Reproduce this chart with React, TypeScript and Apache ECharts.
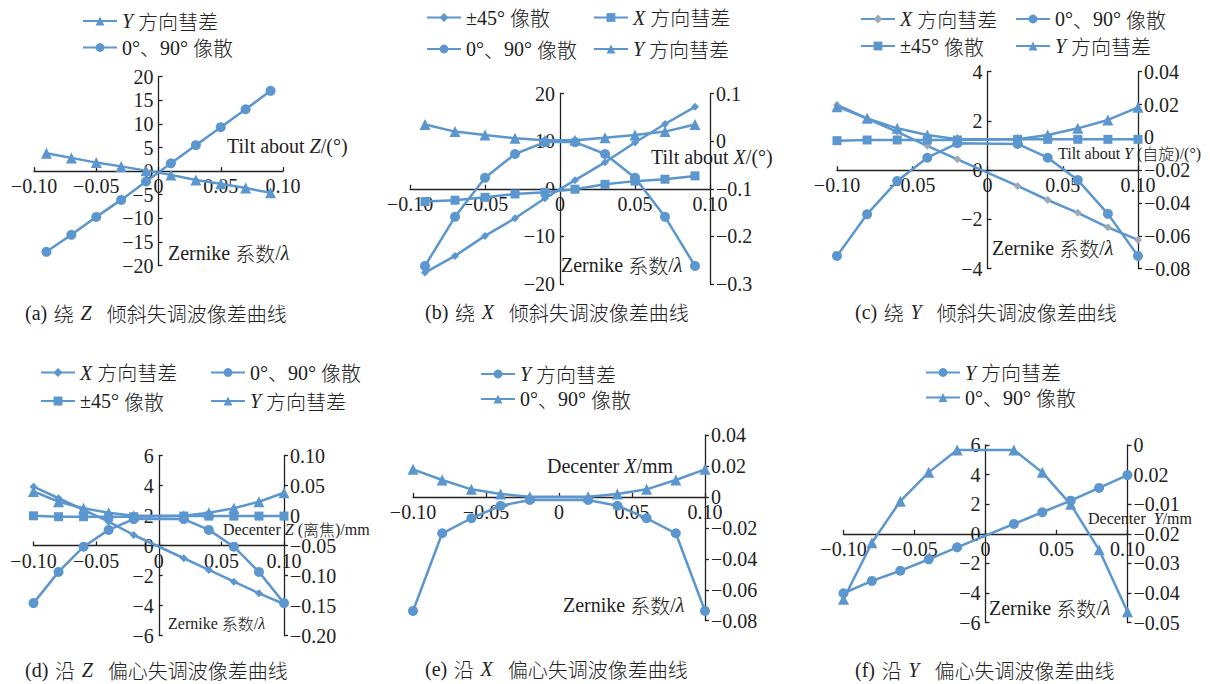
import React, { useEffect, useRef } from 'react';
import * as echarts from 'echarts';

const BLUE = '#5b96cf';
const GREY_MARK = '#9ea9b6';
const INK = '#222';
const SERIF = "'Liberation Serif', 'Times New Roman', serif";
const CJK = "'Noto Sans CJK SC', 'Noto Sans CJK JP', sans-serif";

// ---- x positions (tilt angle / decenter) ----
const xTiltZ = [-0.09, -0.07, -0.05, -0.03, -0.01, 0.01, 0.03, 0.05, 0.07, 0.09];
const xTiltX = [-0.09, -0.07, -0.05, -0.03, -0.01, 0.01, 0.03, 0.05, 0.07, 0.09];
const xStep = [-0.1, -0.08, -0.06, -0.04, -0.02, 0.02, 0.04, 0.06, 0.08, 0.1];

// (a) tilt about Z
const aComaY = [3.8, 2.8, 1.8, 1.0, 0.1, -0.8, -1.9, -2.7, -3.6, -4.6];
const aAstig0 = [-17.1, -13.5, -9.7, -6.1, -2.2, 1.65, 5.5, 9.3, 13.1, 17.0];

// (b) tilt about X
const bAstig45 = [-17.6, -14.1, -9.9, -6.2, -2.0, 1.8, 5.55, 9.7, 13.6, 17.2];
const bComaX = [-2.7, -2.4, -1.8, -1.1, -0.75, -0.1, 0.93, 1.6, 2.0, 2.7];
const bAstig0 = [-0.262, -0.159, -0.077, -0.027, -0.002, -0.002, -0.027, -0.077, -0.159, -0.262];
const bComaY = [0.035, 0.02, 0.013, 0.006, 0.002, 0.002, 0.007, 0.013, 0.02, 0.035];

// (c) tilt about Y
const cComaX = [2.65, 2.1, 1.56, 0.99, 0.44, -0.64, -1.21, -1.73, -2.32, -2.83];
const cAstig0 = [-0.0722, -0.0468, -0.0266, -0.0124, -0.0036, -0.004, -0.0124, -0.026, -0.0466, -0.0722];
const cAstig45 = [-0.002, -0.0016, -0.0016, -0.0016, -0.0016, -0.0012, -0.0012, -0.0012, -0.0012, -0.0012];
const cComaY = [0.0187, 0.0116, 0.0055, 0.0015, -0.0012, -0.0012, 0.0015, 0.0055, 0.0106, 0.0183];

// (d) decenter along Z
const dComaX = [3.92, 3.15, 2.37, 1.59, 0.7, -0.85, -1.63, -2.41, -3.19, -3.9];
const dAstig0 = [-0.146, -0.094, -0.052, -0.024, -0.006, -0.006, -0.024, -0.052, -0.094, -0.146];
const dAstig45 = [-0.0005, -0.002, -0.002, -0.002, -0.002, -0.001, -0.001, -0.001, -0.001, -0.001];
const dComaY = [0.04, 0.023, 0.012, 0.0045, -0.0005, -0.0005, 0.0047, 0.012, 0.023, 0.038];

// (e) decenter along X
const eComaY = [-0.0737, -0.0235, -0.0138, -0.0057, -0.002, -0.002, -0.0057, -0.0138, -0.0235, -0.0737];
const eAstig0 = [0.0178, 0.0109, 0.0049, 0.0019, 0.0001, 0.0001, 0.0019, 0.0049, 0.0109, 0.0178];

// (f) decenter along Y
const fComaY = [-4.01, -3.18, -2.49, -1.72, -0.91, 0.67, 1.46, 2.24, 3.1, 3.97];
const fAstig0 = [-0.0434, -0.0275, -0.0158, -0.0077, -0.0014, -0.0014, -0.0077, -0.0167, -0.0295, -0.0469];

// ---- tick labels (bottom to top / left to right) ----
const X_TICKS = ['−0.10', '−0.05', '0', '0.05', '0.10'];
const A_LEFT = ['−20', '−15', '−10', '−5', '0', '5', '10', '15', '20'];
const B_LEFT = ['−20', '−10', '0', '10', '20'];
const B_RIGHT = ['−0.3', '−0.2', '−0.1', '0', '0.1'];
const C_LEFT = ['−4', '−2', '0', '2', '4'];
const C_RIGHT = ['−0.08', '−0.06', '−0.04', '−0.02', '0', '0.02', '0.04'];
const D_LEFT = ['−6', '−4', '−2', '0', '2', '4', '6'];
const D_RIGHT = ['−0.20', '−0.15', '−0.10', '−0.05', '0', '0.05', '0.10'];
const E_RIGHT = ['−0.08', '−0.06', '−0.04', '−0.02', '0', '0.02', '0.04'];
const F_LEFT = ['−6', '−4', '−2', '0', '2', '4', '6'];
const F_RIGHT = ['−0.05', '−0.04', '−0.03', '−0.02', '−0.01', '0.02', '0'];

// legend captions keyed by the series kind ({i|..} italic, {c|..} CJK)
const LEGEND_TEXT: Record<string, string> = {
  comaY: '{i|Y} {c|方向彗差}',
  comaX: '{i|X} {c|方向彗差}',
  astig0: '0°{c|、}90° {c|像散}',
  astig45: '±45° {c|像散}',
};

type Box = { left: number; top: number; width: number; height: number };

const GRIDS: Box[] = [
  { left: 34, top: 76.7, width: 249, height: 188.8 },
  { left: 410, top: 93.5, width: 300, height: 190.5 },
  { left: 837, top: 71.7, width: 301, height: 197 },
  { left: 33.5, top: 455.5, width: 250.5, height: 180 },
  { left: 413, top: 435, width: 292, height: 185.7 },
  { left: 843.5, top: 445, width: 284, height: 177.7 },
];

const labelsFrom = (arr: string[], min: number, interval: number) => (v: number) => {
  const k = Math.round((v - min) / interval);
  return arr[k] ?? '';
};

const tickFont = { fontFamily: SERIF, fontSize: 20, color: INK };
const axisLine = { color: INK, width: 1.3 };

// x axis drawn through the zero of the y scale (yMin..yMax) of its grid
function xAxis(grid: number, yMin: number, yMax: number) {
  const g = GRIDS[grid];
  const fromBottom = (g.height * (0 - yMin)) / (yMax - yMin);
  return {
    gridIndex: grid,
    type: 'value',
    position: 'bottom',
    offset: -fromBottom,
    min: -0.1,
    max: 0.1,
    interval: 0.05,
    axisLine: { show: true, onZero: false, lineStyle: axisLine },
    axisTick: { show: true, inside: true, length: 4, lineStyle: axisLine },
    axisLabel: {
      ...tickFont,
      margin: 5,
      showMinLabel: true,
      showMaxLabel: true,
      hideOverlap: false,
      formatter: labelsFrom(X_TICKS, -0.1, 0.05),
    },
    splitLine: { show: false },
  };
}

// left y axis drawn through x = 0 (middle of the symmetric x range)
function leftAxis(grid: number, min: number, max: number, interval: number, labels: string[]) {
  const g = GRIDS[grid];
  return {
    gridIndex: grid,
    type: 'value',
    position: 'left',
    offset: -g.width / 2,
    min,
    max,
    interval,
    axisLine: { show: true, onZero: false, lineStyle: axisLine },
    axisTick: { show: true, inside: true, length: 4, lineStyle: axisLine },
    axisLabel: {
      ...tickFont,
      margin: 5,
      showMinLabel: true,
      showMaxLabel: true,
      hideOverlap: false,
      formatter: labelsFrom(labels, min, interval),
    },
    splitLine: { show: false },
  };
}

function rightAxis(grid: number, min: number, max: number, interval: number, labels: string[]) {
  return {
    gridIndex: grid,
    type: 'value',
    position: 'right',
    offset: 0,
    min,
    max,
    interval,
    axisLine: { show: true, onZero: false, lineStyle: axisLine },
    axisTick: { show: true, inside: false, length: 4, lineStyle: axisLine },
    axisLabel: {
      ...tickFont,
      margin: 6,
      showMinLabel: true,
      showMaxLabel: true,
      hideOverlap: false,
      formatter: labelsFrom(labels, min, interval),
    },
    splitLine: { show: false },
  };
}

const SYMBOL_SIZE: Record<string, number> = { circle: 10, rect: 9, triangle: 11, diamond: 8 };

function series(name: string, xIdx: number, yIdx: number, xs: number[], ys: number[], symbol: string, markColor = BLUE) {
  return {
    type: 'line',
    name,
    xAxisIndex: xIdx,
    yAxisIndex: yIdx,
    data: xs.map((x, i) => [x, ys[i]]),
    symbol,
    symbolSize: SYMBOL_SIZE[symbol],
    showAllSymbol: true,
    lineStyle: { color: BLUE, width: 2.5 },
    itemStyle: { color: markColor },
    emphasis: { disabled: true },
  };
}

const LEGEND_ITEMS = [
  { s: 'a|comaY', x: 82, y: 21 },
  { s: 'a|astig0', x: 82, y: 47.5 },
  { s: 'b|astig45', x: 426, y: 17.5 },
  { s: 'b|comaX', x: 593, y: 17.5 },
  { s: 'b|astig0', x: 426, y: 49 },
  { s: 'b|comaY', x: 593, y: 49 },
  { s: 'c|comaX', x: 860, y: 19 },
  { s: 'c|astig0', x: 1015, y: 19 },
  { s: 'c|astig45', x: 860, y: 46 },
  { s: 'c|comaY', x: 1015, y: 46 },
  { s: 'd|comaX', x: 40, y: 372.5 },
  { s: 'd|astig0', x: 210, y: 372.5 },
  { s: 'd|astig45', x: 40, y: 401 },
  { s: 'd|comaY', x: 210, y: 401 },
  { s: 'e|comaY', x: 480, y: 374 },
  { s: 'e|astig0', x: 480, y: 399 },
  { s: 'f|comaY', x: 925, y: 372.5 },
  { s: 'f|astig0', x: 925, y: 397.5 },
];

// rich styles for graphic texts (zrender naming) and legend texts (echarts naming)
function richFor(size: number) {
  return {
    i: { fontStyle: 'italic', fontFamily: SERIF, fontSize: size, fill: INK },
    c: { fontFamily: CJK, fontSize: size, fontWeight: 300, fill: INK },
  };
}

const LEGEND_RICH = {
  i: { fontStyle: 'italic', fontFamily: SERIF, fontSize: 20, color: INK },
  c: { fontFamily: CJK, fontSize: 20, fontWeight: 300, color: INK },
};

function text(x: number, y: number, str: string, size = 20) {
  return {
    type: 'text',
    x,
    y,
    z: 50,
    style: {
      text: str,
      fontFamily: SERIF,
      fontSize: size,
      fill: INK,
      align: 'left',
      verticalAlign: 'middle',
      rich: richFor(size),
    },
  };
}

// caption: "(a) 绕 Z 倾斜失调波像差曲线" with the wider word spacing of the figure
const caption = (tag: string, verb: string, axis: string, rest: string) =>
  `${tag}\u2004{c|${verb}}\u2004{i|${axis}}\u2002\u2005{c|${rest}}`;

export default function App() {
  const ref = useRef<HTMLDivElement>(null);

  useEffect(() => {
    if (!ref.current) return;
    const chart = echarts.init(ref.current, undefined, { renderer: 'svg' });

    const grids = GRIDS.map((g) => ({ ...g, containLabel: false, outerBoundsMode: 'none', show: false }));

    // yAxis indices: a-left 0 | b-left 1, b-right 2 | c-left 3, c-right 4 | d-left 5, d-right 6 | e-right 7 | f-left 8, f-right 9
    const yAxes = [
      leftAxis(0, -20, 20, 5, A_LEFT),
      leftAxis(1, -20, 20, 10, B_LEFT),
      rightAxis(1, -0.3, 0.1, 0.1, B_RIGHT),
      leftAxis(2, -4, 4, 2, C_LEFT),
      rightAxis(2, -0.08, 0.04, 0.02, C_RIGHT),
      leftAxis(3, -6, 6, 2, D_LEFT),
      rightAxis(3, -0.2, 0.1, 0.05, D_RIGHT),
      rightAxis(4, -0.08, 0.04, 0.02, E_RIGHT),
      leftAxis(5, -6, 6, 2, F_LEFT),
      rightAxis(5, -0.05, 0, 0.05 / 6, F_RIGHT),
    ];

    const xAxes = [
      xAxis(0, -20, 20),
      xAxis(1, -20, 20),
      xAxis(2, -4, 4),
      xAxis(3, -6, 6),
      xAxis(4, -0.08, 0.04),
      xAxis(5, -6, 6),
    ];

    const allSeries = [
      series('a|comaY', 0, 0, xTiltZ, aComaY, 'triangle'),
      series('a|astig0', 0, 0, xTiltZ, aAstig0, 'circle'),

      series('b|astig45', 1, 1, xTiltX, bAstig45, 'diamond'),
      series('b|comaX', 1, 1, xTiltX, bComaX, 'rect'),
      series('b|astig0', 1, 2, xTiltX, bAstig0, 'circle'),
      series('b|comaY', 1, 2, xTiltX, bComaY, 'triangle'),

      series('c|comaX', 2, 3, xStep, cComaX, 'diamond', GREY_MARK),
      series('c|astig0', 2, 4, xStep, cAstig0, 'circle'),
      series('c|astig45', 2, 4, xStep, cAstig45, 'rect'),
      series('c|comaY', 2, 4, xStep, cComaY, 'triangle'),

      series('d|comaX', 3, 5, xStep, dComaX, 'diamond'),
      series('d|astig0', 3, 6, xStep, dAstig0, 'circle'),
      series('d|astig45', 3, 6, xStep, dAstig45, 'rect'),
      series('d|comaY', 3, 6, xStep, dComaY, 'triangle'),

      series('e|comaY', 4, 7, xStep, eComaY, 'circle'),
      series('e|astig0', 4, 7, xStep, eAstig0, 'triangle'),

      series('f|comaY', 5, 8, xStep, fComaY, 'circle'),
      series('f|astig0', 5, 9, xStep, fAstig0, 'triangle'),
    ];

    const legends = LEGEND_ITEMS.map((it) => ({
      show: true,
      selectedMode: false,
      data: [it.s],
      left: it.x,
      top: it.y - 10,
      padding: 0,
      itemWidth: 34,
      itemHeight: 11,
      itemGap: 0,
      formatter: (name: string) => LEGEND_TEXT[name.split('|')[1]],
      textStyle: { fontFamily: SERIF, fontSize: 20, color: INK, rich: LEGEND_RICH },
    }));

    const graphic = [
      // axis titles
      text(227, 146, 'Tilt about {i|Z}/(°)'),
      text(168, 253, 'Zernike {c|系数}/{i|λ}'),
      text(651, 157, 'Tilt about {i|X}/(°)'),
      text(561, 265, 'Zernike {c|系数}/{i|λ}'),
      text(1058, 153, 'Tilt about {i|Y} ({c|自旋})/(°)', 16),
      text(992, 248, 'Zernike {c|系数}/{i|λ}'),
      text(223, 529, 'Decenter {i|Z} ({c|离焦})/mm', 16),
      text(168, 623, 'Zernike {c|系数}/{i|λ}', 16),
      text(547, 466, 'Decenter {i|X}/mm'),
      text(563, 605, 'Zernike {c|系数}/{i|λ}'),
      text(1088, 518, 'Decenter  {i|Y}/mm', 16),
      text(989, 608, 'Zernike {c|系数}/{i|λ}'),
      // panel captions
      text(25, 313, caption('(a)', '绕', 'Z', '倾斜失调波像差曲线')),
      text(425, 312, caption('(b)', '绕', 'X', '倾斜失调波像差曲线')),
      text(855, 312, caption('(c)', '绕', 'Y', '倾斜失调波像差曲线')),
      text(25, 670, caption('(d)', '沿', 'Z', '偏心失调波像差曲线')),
      text(425, 669, caption('(e)', '沿', 'X', '偏心失调波像差曲线')),
      text(855, 670, caption('(f)', '沿', 'Y', '偏心失调波像差曲线')),
    ];

    chart.setOption({
      animation: false,
      backgroundColor: '#ffffff',
      textStyle: { fontFamily: SERIF },
      grid: grids,
      xAxis: xAxes,
      yAxis: yAxes,
      legend: legends,
      series: allSeries,
      graphic,
    });

    return () => chart.dispose();
  }, []);

  return (
    <div
      ref={ref}
      style={{ position: 'absolute', left: 0, top: 0, width: 1210, height: 684, background: '#fff' }}
    />
  );
}
